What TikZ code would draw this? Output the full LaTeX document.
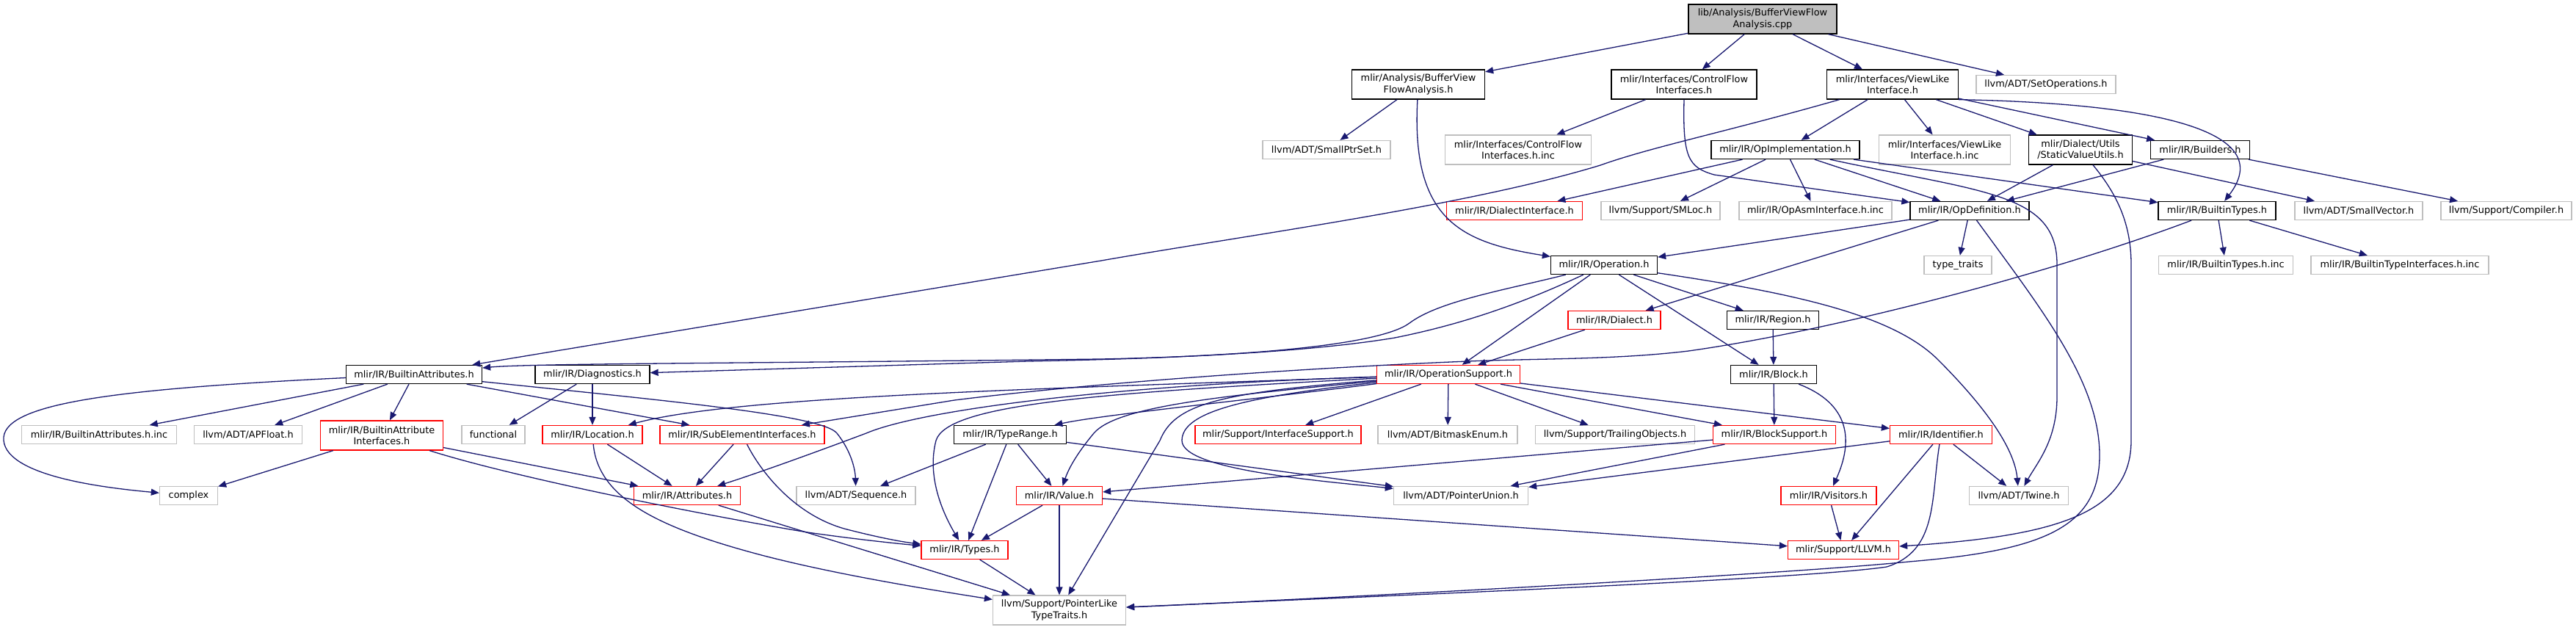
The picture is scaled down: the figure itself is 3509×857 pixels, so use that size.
\documentclass[tikz,border=0pt]{standalone}
\usepackage{fontspec}
\setmainfont{DejaVu Sans}
\usetikzlibrary{arrows.meta}
\definecolor{edgec}{HTML}{191970}
\definecolor{redc}{HTML}{FF0000}
\definecolor{grayc}{HTML}{BFBFBF}
\begin{document}
\begin{tikzpicture}[x=1pt,y=-1pt,
 box/.style={draw, line width=1.3pt, inner sep=0pt, minimum height=25pt, align=center, font=\fontsize{12.9}{15.3}\selectfont, text=black, fill=white},
 kbox/.style={box, draw=black},
 rbox/.style={box, draw=redc},
 gbox/.style={box, draw=grayc},
 rootbox/.style={box, draw=black, fill=grayc},
 tall/.style={minimum height=40pt},
 edg/.style={draw=edgec, line width=1.3pt, -{Triangle[length=11pt,width=9pt]}},
]
\fill[white] (0,0) rectangle (3509,857);
\useasboundingbox (0,0) rectangle (3509,857);

% nodes
\node[rootbox, tall, minimum width=202pt] (root) at (2401,26) {lib/Analysis/BufferViewFlow\\Analysis.cpp};
\node[kbox, tall, minimum width=181pt] (bvfa) at (1932,115) {mlir/Analysis/BufferView\\FlowAnalysis.h};
\node[kbox, tall, minimum width=198pt] (cfi) at (2294,115) {mlir/Interfaces/ControlFlow\\Interfaces.h};
\node[kbox, tall, minimum width=179pt] (vli) at (2578,115) {mlir/Interfaces/ViewLike\\Interface.h};
\node[gbox, minimum width=190pt] (setops) at (2787,115) {llvm/ADT/SetOperations.h};

\node[gbox, minimum width=174pt] (smallptr) at (1807,204) {llvm/ADT/SmallPtrSet.h};
\node[gbox, tall, minimum width=199pt] (cfiinc) at (2068,204) {mlir/Interfaces/ControlFlow\\Interfaces.h.inc};
\node[kbox, minimum width=202pt] (opimpl) at (2432,204) {mlir/IR/OpImplementation.h};
\node[gbox, tall, minimum width=179pt] (vliinc) at (2649,204) {mlir/Interfaces/ViewLike\\Interface.h.inc};
\node[kbox, tall, minimum width=141pt] (svu) at (2834,204) {mlir/Dialect/Utils\\/StaticValueUtils.h};
\node[kbox, minimum width=135pt] (builders) at (2997,204) {mlir/IR/Builders.h};

\node[rbox, minimum width=185pt] (dialiface) at (2063,287) {mlir/IR/DialectInterface.h};
\node[gbox, minimum width=162pt] (smloc) at (2262,287) {llvm/Support/SMLoc.h};
\node[gbox, minimum width=208pt] (opasm) at (2473,287) {mlir/IR/OpAsmInterface.h.inc};
\node[kbox, minimum width=162pt] (opdef) at (2683,287) {mlir/IR/OpDefinition.h};
\node[kbox, minimum width=160pt] (btypes) at (3020,287) {mlir/IR/BuiltinTypes.h};
\node[gbox, minimum width=174pt] (smallvec) at (3213,287) {llvm/ADT/SmallVector.h};
\node[gbox, minimum width=178pt] (compiler) at (3414,287) {llvm/Support/Compiler.h};

\node[kbox, minimum width=145pt] (operation) at (2185,361) {mlir/IR/Operation.h};
\node[gbox, minimum width=92pt] (typetraits) at (2667,361) {type\_traits};
\node[gbox, minimum width=183pt] (btinc) at (3032,361) {mlir/IR/BuiltinTypes.h.inc};
\node[gbox, minimum width=242pt] (btiinc) at (3269,361) {mlir/IR/BuiltinTypeInterfaces.h.inc};

\node[rbox, minimum width=126pt] (dialect) at (2199,436) {mlir/IR/Dialect.h};
\node[kbox, minimum width=125pt] (region) at (2415,436) {mlir/IR/Region.h};

\node[kbox, minimum width=185pt] (battrs) at (564,510) {mlir/IR/BuiltinAttributes.h};
\node[kbox, minimum width=156pt] (diag) at (807,510) {mlir/IR/Diagnostics.h};
\node[rbox, minimum width=195pt] (opsupport) at (1973,510) {mlir/IR/OperationSupport.h};
\node[kbox, minimum width=117pt] (block) at (2416,510) {mlir/IR/Block.h};

\node[gbox, minimum width=211pt] (battrsinc) at (135,592) {mlir/IR/BuiltinAttributes.h.inc};
\node[gbox, minimum width=147pt] (apfloat) at (338,592) {llvm/ADT/APFloat.h};
\node[rbox, tall, minimum width=167pt] (baiface) at (520,593) {mlir/IR/BuiltinAttribute\\Interfaces.h};
\node[gbox, minimum width=86pt] (functional) at (672,592) {functional};
\node[rbox, minimum width=136pt] (location) at (807,592) {mlir/IR/Location.h};
\node[rbox, minimum width=224pt] (subelem) at (1011,592) {mlir/IR/SubElementInterfaces.h};
\node[kbox, minimum width=153pt] (typerange) at (1376,592) {mlir/IR/TypeRange.h};
\node[rbox, minimum width=226pt] (ifacesupport) at (1741,592) {mlir/Support/InterfaceSupport.h};
\node[gbox, minimum width=190pt] (bitmask) at (1972,592) {llvm/ADT/BitmaskEnum.h};
\node[gbox, minimum width=217pt] (trailing) at (2200,592) {llvm/Support/TrailingObjects.h};
\node[rbox, minimum width=167pt] (blocksupport) at (2417,592) {mlir/IR/BlockSupport.h};
\node[rbox, minimum width=139pt] (identifier) at (2644,592) {mlir/IR/Identifier.h};

\node[gbox, minimum width=79pt] (complex) at (257,675) {complex};
\node[rbox, minimum width=145pt] (attributes) at (936,675) {mlir/IR/Attributes.h};
\node[gbox, minimum width=162pt] (sequence) at (1166,675) {llvm/ADT/Sequence.h};
\node[rbox, minimum width=117pt] (value) at (1443,675) {mlir/IR/Value.h};
\node[gbox, minimum width=183pt] (punion) at (1990,675) {llvm/ADT/PointerUnion.h};
\node[rbox, minimum width=130pt] (visitors) at (2491,675) {mlir/IR/Visitors.h};
\node[gbox, minimum width=135pt] (twine) at (2750,675) {llvm/ADT/Twine.h};

\node[rbox, minimum width=118pt] (types) at (1314,749) {mlir/IR/Types.h};
\node[rbox, minimum width=151pt] (llvmh) at (2511,749) {mlir/Support/LLVM.h};
\node[gbox, tall, minimum width=181pt] (pltt) at (1443,831) {llvm/Support/PointerLike\\TypeTraits.h};

% edges
\draw[edg] (root) -- (bvfa);
\draw[edg] (root) -- (cfi);
\draw[edg] (root) -- (vli);
\draw[edg] (root) -- (setops);

\draw[edg] (bvfa) -- (smallptr);
\draw[edg] (bvfa) .. controls (1922,300) and (1990,330) .. (operation);

\draw[edg] (cfi) -- (cfiinc);
\draw[edg] (cfi.south) .. controls (2292,215) and (2300,228) .. (2335,238) -- (opdef);

\draw[edg] (vli) .. controls (2350,180) and (2250,200) .. (2180,225) .. controls (2000,280) and (1700,320) .. (1500,355) -- (battrs);
\draw[edg] (vli) -- (opimpl);
\draw[edg] (vli) -- (vliinc);
\draw[edg] (vli) -- (svu);
\draw[edg] (vli) -- (builders);
\draw[edg] (vli.south east) .. controls (2900,140) and (3110,170) .. (btypes);

\draw[edg] (opimpl) -- (dialiface);
\draw[edg] (opimpl) -- (smloc);
\draw[edg] (opimpl) -- (opasm);
\draw[edg] (opimpl) -- (opdef);
\draw[edg] (opimpl) -- (btypes);
\draw[edg] (opimpl) .. controls (2700,262) and (2802,262) .. (2802,360) -- (2802,540) .. controls (2802,600) and (2775,630) .. (twine);

\draw[edg] (svu) -- (opdef);
\draw[edg] (svu) -- (smallvec);
\draw[edg] (svu) .. controls (2880,260) and (2903,300) .. (2903,360) -- (2903,600) .. controls (2903,700) and (2800,730) .. (llvmh);

\draw[edg] (builders) -- (opdef);
\draw[edg] (builders) -- (compiler);

\draw[edg] (opdef) -- (operation);
\draw[edg] (opdef) -- (dialect);
\draw[edg] (opdef) -- (typetraits);
\draw[edg] (opdef) .. controls (2780,420) and (2860,520) .. (2860,620) .. controls (2860,720) and (2780,750) .. (2600,765) .. controls (2400,785) and (1700,820) .. (pltt);

\draw[edg] (btypes) -- (btinc);
\draw[edg] (btypes) -- (btiinc);
\draw[edg] (btypes) .. controls (2800,370) and (2500,450) .. (2300,478) .. controls (2200,490) and (2100,488) .. (2000,492) .. controls (1800,500) and (1500,520) .. (1300,545) -- (subelem);

\draw[edg] (operation) .. controls (2050,395) and (1960,410) .. (1920,440) .. controls (1880,470) and (1700,485) .. (1500,489) .. controls (1000,495) and (720,495) .. (battrs);
\draw[edg] (operation) .. controls (2080,410) and (2000,440) .. (1900,460) .. controls (1750,485) and (1500,490) .. (1400,492) -- (diag);
\draw[edg] (operation) -- (opsupport);
\draw[edg] (operation) -- (region);
\draw[edg] (operation) -- (block);
\draw[edg] (operation) .. controls (2450,400) and (2580,430) .. (2640,490) .. controls (2720,570) and (2745,620) .. (twine);

\draw[edg] (dialect) -- (opsupport);
\draw[edg] (region) -- (block);

\draw[edg] (battrs) -- (battrsinc);
\draw[edg] (battrs) -- (apfloat);
\draw[edg] (battrs) -- (baiface);
\draw[edg] (battrs) -- (subelem);
\draw[edg] (battrs) .. controls (900,545) and (1120,565) .. (1140,590) .. controls (1160,615) and (1165,640) .. (sequence);
\draw[edg] (battrs) .. controls (150,530) and (0,550) .. (5,600) .. controls (10,650) and (150,665) .. (complex);

\draw[edg] (diag) -- (functional);
\draw[edg] (diag) -- (location);

\draw[edg] (opsupport) .. controls (1400,530) and (1000,540) .. (location);
\draw[edg] (opsupport) .. controls (1500,525) and (1250,560) .. (1180,590) .. controls (1100,620) and (1030,645) .. (attributes);
\draw[edg] (opsupport) .. controls (1500,535) and (1290,550) .. (1275,600) .. controls (1262,650) and (1285,700) .. (types);
\draw[edg] (opsupport) .. controls (1700,545) and (1500,565) .. (typerange);
\draw[edg] (opsupport) .. controls (1650,540) and (1520,555) .. (1490,590) .. controls (1465,620) and (1455,640) .. (value);
\draw[edg] (opsupport) .. controls (1660,535) and (1600,550) .. (1580,600) -- (pltt);
\draw[edg] (opsupport) .. controls (1700,540) and (1610,560) .. (1610,600) .. controls (1610,640) and (1800,655) .. (punion);
\draw[edg] (opsupport) -- (ifacesupport);
\draw[edg] (opsupport) -- (bitmask);
\draw[edg] (opsupport) -- (trailing);
\draw[edg] (opsupport) -- (blocksupport);
\draw[edg] (opsupport) -- (identifier);

\draw[edg] (block) -- (blocksupport);
\draw[edg] (block) .. controls (2520,550) and (2525,600) .. (visitors);

\draw[edg] (baiface) -- (complex);
\draw[edg] (baiface) -- (attributes);
\draw[edg] (baiface) .. controls (700,650) and (950,700) .. (1100,725) .. controls (1170,735) and (1220,740) .. (types);

\draw[edg] (location) -- (attributes);
\draw[edg] (location) .. controls (815,680) and (900,720) .. (1041,757) .. controls (1150,785) and (1280,805) .. (pltt);

\draw[edg] (subelem) -- (attributes);
\draw[edg] (subelem) .. controls (1035,640) and (1080,700) .. (1150,720) .. controls (1200,733) and (1230,738) .. (types);

\draw[edg] (typerange) -- (sequence);
\draw[edg] (typerange) -- (types);
\draw[edg] (typerange) -- (value);
\draw[edg] (typerange) -- (punion);

\draw[edg] (blocksupport) -- (value);
\draw[edg] (blocksupport) -- (punion);

\draw[edg] (identifier) -- (punion);
\draw[edg] (identifier) -- (llvmh);
\draw[edg] (identifier) -- (twine);
\draw[edg] (identifier) .. controls (2630,680) and (2640,750) .. (2570,772) .. controls (2450,790) and (1800,815) .. (pltt);

\draw[edg] (attributes) -- (pltt);
\draw[edg] (value) -- (types);
\draw[edg] (value) -- (pltt);
\draw[edg] (value) -- (llvmh);
\draw[edg] (types) -- (pltt);
\draw[edg] (visitors) -- (llvmh);
\end{tikzpicture}
\end{document}
